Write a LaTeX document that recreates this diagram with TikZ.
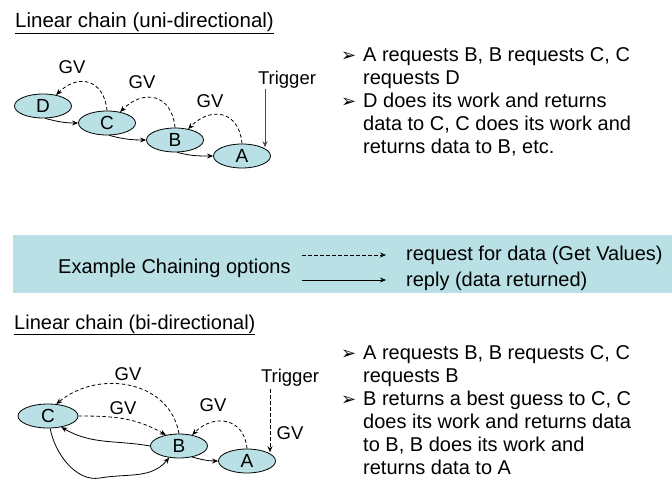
\documentclass[tikz,border=0pt]{standalone}
\usepackage{fontspec}
\setmainfont{Liberation Sans}
\newfontfamily\dejavu{DejaVu Sans}
\usetikzlibrary{arrows.meta,shapes.geometric}
\definecolor{tealfill}{RGB}{185,224,228}
\begin{document}
\begin{tikzpicture}[x=1pt,y=1pt,
  lbl/.style={font=\fontsize{18.5}{20}\selectfont, inner sep=0pt},
  big/.style={font=\fontsize{20}{23}\selectfont, inner sep=0pt, anchor=base west},
  bul/.style={font=\dejavu\fontsize{18}{18}\selectfont, inner sep=0pt, anchor=base west},
  ell/.style={ellipse, draw, fill=tealfill, minimum width=57pt, minimum height=24pt, inner sep=0pt, line width=0.8pt, font=\fontsize{19}{20}\selectfont},
  req/.style={dashed, dash pattern=on 3.5pt off 2.5pt, line width=0.8pt, -{Stealth[length=6pt,width=5pt]}},
  rep/.style={line width=0.8pt, -{Stealth[length=6pt,width=5pt]}},
  trg/.style={line width=0.6pt, draw=black!70, -{Stealth[length=6pt,width=5pt]}}]
\useasboundingbox (0,0) rectangle (672,-481);

% ---------- top section ----------
\node[big, font=\fontsize{20.5}{23}\selectfont] (t1) at (15,-28) {\underline{Linear chain (uni-directional)}};

\node[ell] (D) at (43,-106) {D};
\node[ell] (C) at (107,-123) {C};
\node[ell] (B) at (175,-140) {B};
\node[ell] (A) at (242,-156) {A};

\draw[rep] (D.-80) to[out=-15,in=180] (C.west);
\draw[rep] (C.-80) to[out=-15,in=180] (B.west);
\draw[rep] (B.-80) to[out=-15,in=180] (A.west);

\draw[req] (C.north) to[out=95,in=45,looseness=1.5] (D.40);
\draw[req] (B.north) to[out=95,in=45,looseness=1.5] (C.40);
\draw[req] (A.north) to[out=95,in=45,looseness=1.5] (B.40);

\node[lbl] (gv1) at (72,-67) {GV};
\node[lbl] (gv2) at (142,-82) {GV};
\node[lbl] (gv3) at (210,-101) {GV};

\node[lbl] (trig1) at (287,-80) {Trigger};
\coordinate (trs1) at (265,-89);
\draw[trg] (trs1) -- (trs1 |- A.north east);

\node[bul] (b1a) at (341,-62) {➢};
\node[big] (l1) at (363,-62) {A requests B, B requests C, C};
\node[big] (l2) at (363,-85) {requests D};
\node[bul] (b1b) at (341,-108) {➢};
\node[big] (l3) at (363,-108) {D does its work and returns};
\node[big] (l4) at (363,-131) {data to C, C does its work and};
\node[big] (l5) at (363,-154) {returns data to B, etc.};

% ---------- legend band ----------
\fill[tealfill] (13,-235) rectangle (672,-293);
\node[big] (ex) at (58,-273) {Example Chaining options};
\coordinate (l1s) at (302,-255);
\coordinate (l1e) at (386,-255);
\coordinate (l2s) at (302,-280);
\coordinate (l2e) at (386,-280);
\draw[req, line width=0.7pt] (l1s) -- (l1e);
\draw[rep, line width=0.7pt] (l2s) -- (l2e);
\node[big] (lg1) at (406,-261) {request for data (Get Values)};
\node[big] (lg2) at (406,-286) {reply (data returned)};

% ---------- bottom section ----------
\node[big] (t2) at (14,-329) {\underline{Linear chain (bi-directional)}};

\node[ell, minimum width=60pt] (C2) at (48,-416) {C};
\node[ell] (B2) at (179,-446) {B};
\node[ell] (A2) at (247,-461) {A};

\draw[req] (B2.north) to[out=100,in=40,looseness=1.1] (C2.55);
\draw[req] (C2.east) to[out=0,in=150] (B2.140);
\draw[req] (A2.north) to[out=95,in=45,looseness=1.4] (B2.40);

\draw[rep] (B2.west) to[out=170,in=-30] (C2.-40);
\coordinate (bot) at (100,-478);
\draw[rep] (C2.-80) to[out=-80,in=-170,looseness=0.9] (bot) to[out=10,in=-130] (B2.-130);
\draw[rep] (B2.-40) to[out=-15,in=180] (A2.west);

\node[lbl] (gv4) at (128,-374) {GV};
\node[lbl] (gv5) at (123,-408) {GV};
\node[lbl] (gv6) at (213,-405) {GV};
\node[lbl] (gv7) at (290,-433) {GV};

\node[lbl] (trig2) at (290,-378) {Trigger};
\coordinate (trs2) at (270,-389);
\draw[req, line width=0.7pt] (trs2) -- (trs2 |- A2.north east);

\node[bul] (b2a) at (341,-359) {➢};
\node[big] (m1) at (363,-359) {A requests B, B requests C, C};
\node[big] (m2) at (363,-382) {requests B};
\node[bul] (b2b) at (341,-405) {➢};
\node[big] (m3) at (363,-405) {B returns a best guess to C, C};
\node[big] (m4) at (363,-428) {does its work and returns data};
\node[big] (m5) at (363,-451) {to B, B does its work and};
\node[big] (m6) at (363,-474) {returns data to A};
\end{tikzpicture}
\end{document}
